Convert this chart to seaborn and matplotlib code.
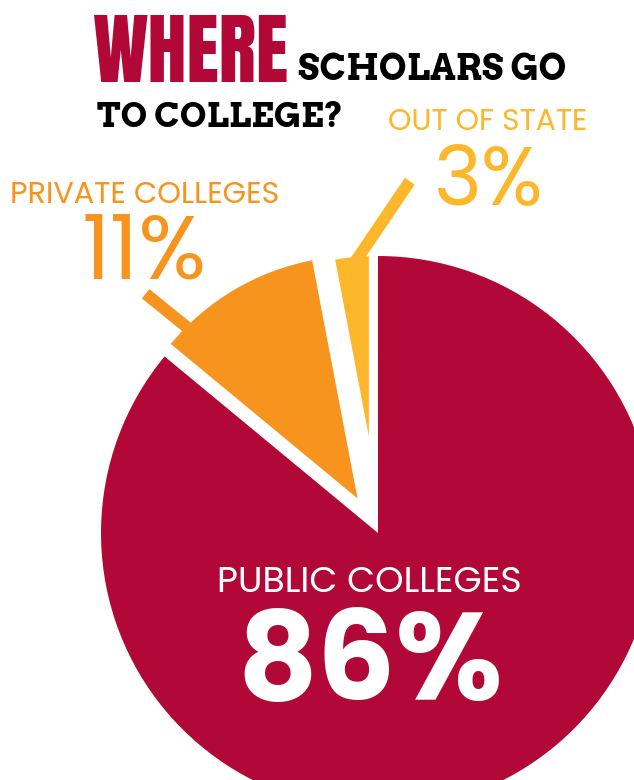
import numpy as np
import matplotlib
matplotlib.use('Agg')
import matplotlib.pyplot as plt
import seaborn as sns

sns.set_theme(style='white')
plt.rcParams['font.family'] = ['DejaVu Sans']

# 数据
labels = ['PUBLIC COLLEGES', 'PRIVATE COLLEGES', 'OUT OF STATE']
shares = [86, 11, 3]
pct_text = ['86%', '11%', '3%']
colors = sns.color_palette(['#B20838', '#F7941E', '#FCB72A'])

# 字体
GOTHAM = ['Poppins', 'Questrial', 'DejaVu Sans']
HEAVY_COND = ['Anton', 'Bebas Neue', 'Roboto Condensed', 'DejaVu Sans']
SLAB = ['Arvo', 'Zilla Slab', 'DejaVu Serif']

W, H = 634, 780
fig = plt.figure(figsize=(W / 100, H / 100), dpi=100)
ax = fig.add_axes([0, 0, 1, 1])

# 饼图：小扇区外移并缩小半径
wedges, _ = ax.pie(shares, colors=colors, startangle=90, counterclock=False,
                   explode=[0, 0.145, 0.35], radius=1,
                   wedgeprops=dict(linewidth=0))
wedges[1].set_radius(0.875)
wedges[2].set_radius(0.65)

# 引导线 (扇区上的角度, 方向, 长度)
leaders = {1: (134.7, 142, 0.19), 2: (None, 52.7, 0.345)}
for i, (ang, direc, length) in leaders.items():
    w = wedges[i]
    if ang is None:
        ang = (w.theta1 + w.theta2) / 2
    cx, cy = w.center
    a = np.deg2rad(ang)
    d = np.deg2rad(direc)
    x0 = cx + (w.r - 0.03) * np.cos(a)
    y0 = cy + (w.r - 0.03) * np.sin(a)
    x1 = cx + w.r * np.cos(a) + length * np.cos(d)
    y1 = cy + w.r * np.sin(a) + length * np.sin(d)
    ax.plot([x0, x1], [y0, y1], color=colors[i], lw=8.6,
            solid_capstyle='butt', zorder=0)

R = 277
ax.set_xlim(-378 / R, (W - 378) / R)
ax.set_ylim(-(H - 533) / R, 533 / R)
ax.set_aspect('auto')
ax.axis('off')

renderer = fig.canvas.get_renderer()


def put(s, x, base, width, **kw):
    t = fig.text(x / W, 1 - base / H, s, ha='left', va='baseline',
                 fontsize=20, **kw)
    bb = t.get_window_extent(renderer)
    t.set_fontsize(20 * width / bb.width)
    return t


# 标题
put('WHERE', 93, 82, 195, color=colors[0], family=HEAVY_COND, weight='bold')
put('SCHOLARS GO', 298, 80, 267, color='black', family=SLAB, weight='bold')
put('TO COLLEGE?', 97, 127, 246, color='black', family=SLAB, weight='bold')

# 标签
put(labels[2], 388, 130, 200, color=colors[2], family=GOTHAM, weight='normal')
put(pct_text[2], 433, 205, 110, color=colors[2], family=GOTHAM, weight='normal')
put(labels[1], 10, 203, 270, color=colors[1], family=GOTHAM, weight='normal')
put(pct_text[1], 82, 278, 126, color=colors[1], family=GOTHAM, weight='normal')
put(labels[0], 217, 592, 306, color='white', family=GOTHAM, weight='normal')
put(pct_text[0], 237, 700, 266, color='white', family=GOTHAM, weight='bold')

fig.savefig('out.png', dpi=100)
